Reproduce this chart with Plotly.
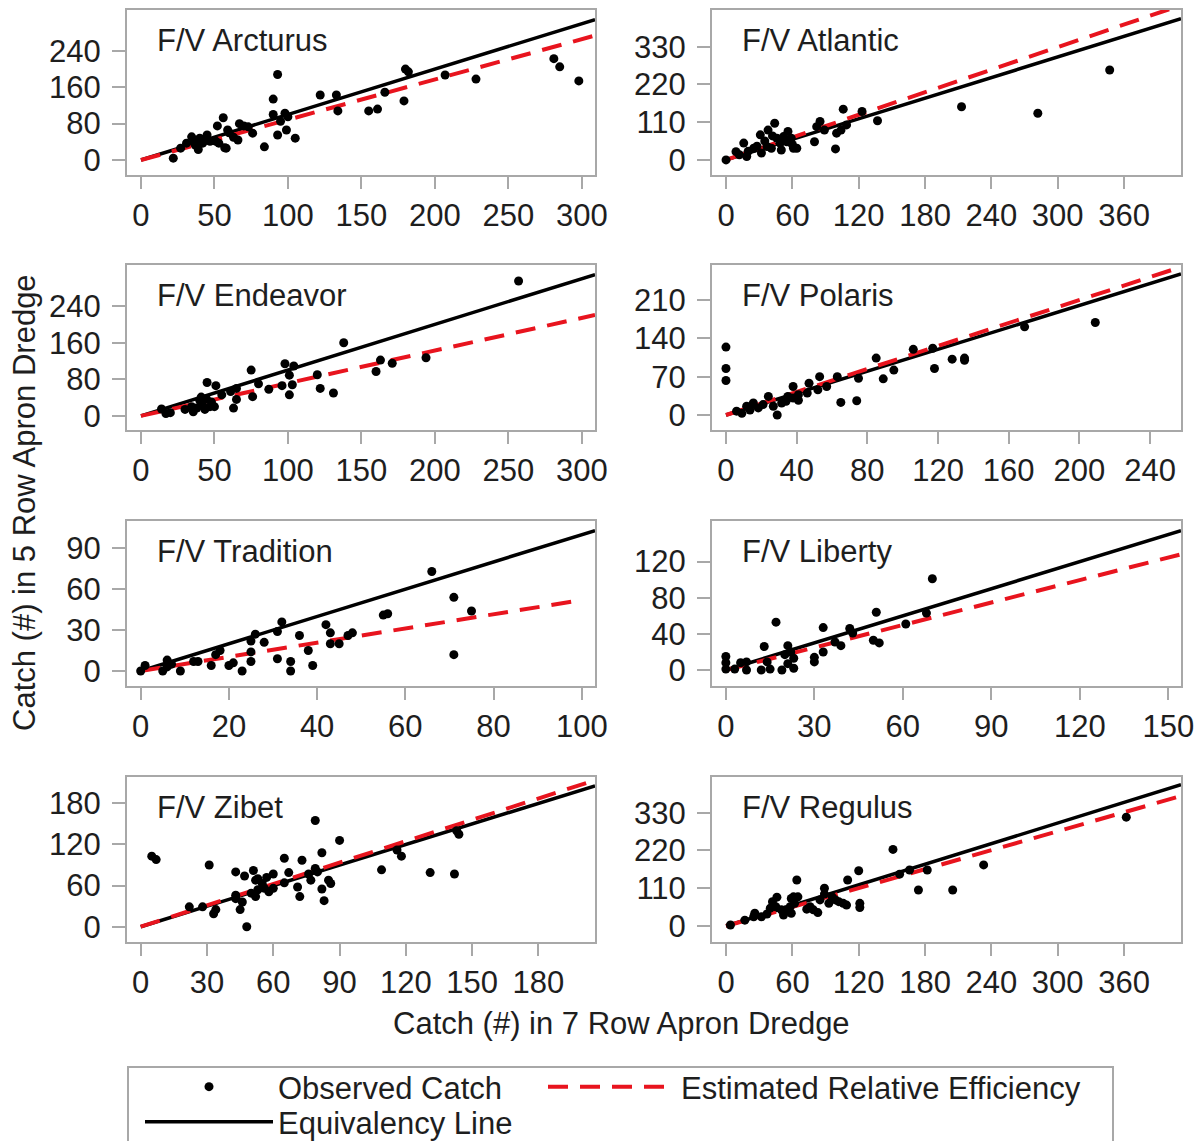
import plotly.graph_objects as go

# ---------------- data ----------------
vessel_names = ["F/V Arcturus", "F/V Atlantic", "F/V Endeavor", "F/V Polaris",
                "F/V Tradition", "F/V Liberty", "F/V Zibet", "F/V Regulus"]

arcturus_x = [22, 34.5, 37, 40, 42, 44, 39, 47, 31, 27, 51, 53, 58, 93, 90, 90, 93, 98, 99, 105, 84, 56, 52,
              67, 73, 76, 66, 57, 59, 122, 133, 134, 155, 161, 166, 179, 180, 182, 207, 228, 281, 285, 298,
              60, 63, 45, 36, 70, 95, 100]
arcturus_y = [4, 51, 33, 48, 37, 44, 23, 41, 37, 26, 41, 37, 26, 188, 134, 100, 55, 103, 66, 48, 29, 93, 75,
              80, 73, 59, 44, 27, 66, 143, 143, 108, 108, 112, 149, 130, 200, 194, 187, 178, 223, 205, 174,
              60, 50, 55, 40, 75, 85, 95]

atlantic_x = [347, 213, 282, 137, 123, 106, 109, 99, 80, 85, 82, 89, 100, 104, 44, 38, 31, 16, 0, 9, 18.7, 25,
              32, 37, 49, 50, 56, 59, 61, 55, 46, 41, 64, 52, 20, 28, 35, 42, 12, 60]
atlantic_y = [262, 155, 136, 114, 141, 148, 102, 32, 53, 112, 97, 87, 78, 87, 107, 87, 73, 49, 0, 24, 10, 34,
              20, 39, 49, 29, 83, 63, 34, 53, 63, 34, 34, 68, 25, 40, 55, 70, 15, 45]

endeavor_x = [257, 138, 194, 171, 163, 160, 131, 122, 120, 98, 104, 101, 103, 101, 96, 87, 76, 75, 80, 45, 51,
              63, 65, 61, 55, 65, 14, 20, 17, 30, 34.5, 38, 40, 42, 44.6, 47, 41, 48, 50, 43.5, 35.6]
endeavor_y = [295, 160, 127, 115, 122, 97, 50, 60, 90, 114, 109, 89, 68, 46, 66, 58, 42, 100, 70, 73, 66,
              17, 36, 53, 46, 60, 15, 7, 5, 14, 20, 17, 34, 23, 37, 20, 41, 30, 20, 14, 9]

polaris_x = [0, 0, 0, 209, 169, 135, 135, 128, 118, 117, 106, 95, 89, 85, 74, 65, 75, 63, 53, 52, 57, 47, 46,
             38, 29, 41, 6, 11.7, 15.5, 18.3, 24, 21, 26.8, 31.5, 34, 38, 13.6, 9, 35, 41]
polaris_y = [124, 85, 63, 169, 161, 100, 104, 102, 85, 122, 120, 82, 66, 104, 26, 23, 67, 70, 70, 46, 52, 58,
             40, 52, 0, 27, 7, 16, 22, 13, 34, 19, 16, 22, 25, 31, 9, 3, 34, 37]

tradition_x = [66, 71, 71, 75, 55, 56, 42, 43, 43, 45, 47, 48, 36, 38, 39, 34, 34, 31, 32, 31, 28, 26, 25, 25,
               25, 23, 21, 20, 18, 17, 16, 13, 12, 9, 6, 6, 5, 1, 0, 7]
tradition_y = [73, 54, 12, 44, 41, 42, 34, 28, 20, 20, 26, 28, 26, 15, 4, 7, 0, 9, 36, 29, 21, 27, 22, 14,
               7, 0, 6, 4, 15, 12, 4, 7, 7, 0, 8, 3, 0, 4, 0, 5]

liberty_x = [70, 17, 51, 33, 42, 43, 61, 68, 50, 52, 39, 37, 21, 13, 33, 30, 30, 22, 23, 21, 19, 15, 12, 14,
             7, 5, 3, 0, 0, 0, 7, 20, 23]
liberty_y = [101, 53, 64, 47, 46, 41, 51, 63, 33, 30, 27, 31, 27, 26, 20, 14, 9, 20, 2, 7, 0, 1, 0, 9,
             9, 8, 1, 15, 8, 1, 0, 17, 13]

zibet_x = [5, 7, 31, 79, 90, 82, 65, 73, 109, 118, 116, 131, 142, 144, 143, 22, 28, 33, 34, 48, 45, 46, 43,
           43, 47, 51, 52, 53, 55, 60, 57, 52, 50, 53, 56, 60, 58, 65, 67, 71, 72, 77, 76, 79, 80, 82, 83,
           85, 86, 43]
zibet_y = [103, 98, 90, 155, 126, 108, 100, 97, 83, 103, 112, 79, 77, 135, 140, 29, 29, 19, 25, 0, 25, 36, 46,
           80, 74, 82, 68, 70, 63, 77, 72, 44, 49, 54, 56, 56, 51, 64, 79, 58, 44, 68, 77, 85, 80, 55, 38,
           68, 63, 41]

regulus_x = [362, 151, 233, 205, 174, 182, 157, 166, 120, 110, 121, 121, 109, 102, 96, 89, 89, 85, 83, 73, 64,
             65, 62, 58, 59, 52, 46, 42, 40, 45, 50, 54, 37, 26, 25, 17, 4, 32, 76, 79, 93, 99, 106, 61, 59]
regulus_y = [317, 223, 178, 105, 105, 163, 151, 163, 161, 134, 66, 54, 61, 71, 85, 110, 93, 76, 39, 49, 134,
             85, 66, 56, 37, 32, 84, 71, 52, 56, 47, 47, 35, 37, 27, 17, 3, 27, 56, 47, 66, 76, 66, 85, 80]

obs_x = [arcturus_x, atlantic_x, endeavor_x, polaris_x, tradition_x, liberty_x, zibet_x, regulus_x]
obs_y = [arcturus_y, atlantic_y, endeavor_y, polaris_y, tradition_y, liberty_y, zibet_y, regulus_y]

# estimated relative efficiency (slope of the red dashed line) per vessel
rel_eff_slopes = [0.886, 1.096, 0.714, 1.05, 0.52, 0.83, 1.04, 0.92]
# end of the fitted relative-efficiency line (x units)
rel_eff_xend = [309, 411, 309, 257, 100, 154, 205, 411]

x_tickvals = [[0, 50, 100, 150, 200, 250, 300], [0, 60, 120, 180, 240, 300, 360],
              [0, 50, 100, 150, 200, 250, 300], [0, 40, 80, 120, 160, 200, 240],
              [0, 20, 40, 60, 80, 100], [0, 30, 60, 90, 120, 150],
              [0, 30, 60, 90, 120, 150, 180], [0, 60, 120, 180, 240, 300, 360]]
y_tickvals = [[0, 80, 160, 240], [0, 110, 220, 330], [0, 80, 160, 240], [0, 70, 140, 210],
              [0, 30, 60, 90], [0, 40, 80, 120], [0, 60, 120, 180], [0, 110, 220, 330]]

# ---------------- layout settings ----------------
x_ranges = [[-9.5, 309], [-12.7, 411.5], [-9.5, 309], [-7.9, 257.5],
            [-3.1, 103], [-4.7, 154.3], [-6.2, 205.6], [-12.7, 411.5]]
y_ranges = [[-33, 330], [-44, 437], [-31, 330], [-27.4, 274],
            [-11, 110], [-17.7, 165], [-22.3, 218.5], [-46.6, 434]]

W, H = 1201, 1141
col_px = [(127, 595), (712, 1181)]
row_px = [(10, 175), (265, 430), (521, 686), (777, 942)]
title_px = [(155, 40), (740, 40), (155, 295), (740, 295), (155, 551), (740, 551), (155, 807), (740, 807)]

FONT = "Liberation Sans, Arial, sans-serif"
TXT = "#1e1e1e"
FRAME = "#a8a8a8"
RED = "rgb(232,20,30)"

fig = go.Figure()
layout = {}
annotations = []

for i in range(8):
    r, c = divmod(i, 2)
    ax = "" if i == 0 else str(i + 1)
    xa, ya = "x" + ax, "y" + ax
    xmax = x_ranges[i][1]
    first = (i == 0)

    # Equivalency line y = x
    fig.add_trace(go.Scatter(
        x=[0, xmax], y=[0, xmax], mode="lines", xaxis=xa, yaxis=ya,
        line=dict(color="black", width=3.5), name="Equivalency Line",
        legend="legend3", showlegend=first, hoverinfo="skip"))
    # Estimated relative efficiency line
    xe = rel_eff_xend[i]
    fig.add_trace(go.Scatter(
        x=[0, xe], y=[0, rel_eff_slopes[i] * xe], mode="lines", xaxis=xa, yaxis=ya,
        line=dict(color=RED, width=4, dash="20px,12px"), name="Estimated Relative Efficiency",
        legend="legend2", showlegend=first, hoverinfo="skip"))
    # Observed catch
    fig.add_trace(go.Scatter(
        x=obs_x[i], y=obs_y[i], mode="markers", xaxis=xa, yaxis=ya,
        marker=dict(color="black", size=9), name="Observed Catch",
        legend="legend", showlegend=first))

    x0, x1 = col_px[c]
    y0, y1 = row_px[r]
    layout["xaxis" + ax] = dict(
        domain=[x0 / W, x1 / W], anchor=ya, range=x_ranges[i],
        tickvals=x_tickvals[i], ticks="outside", ticklen=12, tickwidth=2, tickcolor=FRAME,
        showline=True, linecolor=FRAME, linewidth=2, mirror=True,
        showgrid=False, zeroline=False, automargin=False,
        tickfont=dict(family=FONT, size=31, color=TXT), ticklabelstandoff=0)
    layout["yaxis" + ax] = dict(
        domain=[1 - y1 / H, 1 - y0 / H], anchor=xa, range=y_ranges[i],
        tickvals=y_tickvals[i], ticks="outside", ticklen=13, tickwidth=2, tickcolor=FRAME,
        showline=True, linecolor=FRAME, linewidth=2, mirror=True,
        showgrid=False, zeroline=False, automargin=False,
        tickfont=dict(family=FONT, size=31, color=TXT), ticklabelstandoff=5)

    tx, ty = title_px[i]
    annotations.append(dict(text=vessel_names[i], x=tx / W, y=1 - ty / H, xref="paper", yref="paper",
                            xanchor="left", yanchor="middle", showarrow=False,
                            font=dict(family=FONT, size=31, color=TXT)))

annotations.append(dict(text="Catch (#) in 7 Row Apron Dredge", x=621 / W, y=1 - 1023 / H,
                        xref="paper", yref="paper", xanchor="center", yanchor="middle",
                        showarrow=False, font=dict(family=FONT, size=31, color=TXT)))
annotations.append(dict(text="Catch (#) in 5 Row Apron Dredge", x=25 / W, y=1 - 503 / H,
                        xref="paper", yref="paper", xanchor="center", yanchor="middle",
                        textangle=-90, showarrow=False, font=dict(family=FONT, size=31, color=TXT)))

legend_common = dict(xref="container", yref="container", xanchor="left", yanchor="middle",
                     itemwidth=128, bgcolor="rgba(0,0,0,0)", borderwidth=0,
                     font=dict(family=FONT, size=31, color=TXT))

fig.update_layout(
    width=W, height=H, margin=dict(l=0, r=0, t=0, b=0, autoexpand=False),
    paper_bgcolor="white", plot_bgcolor="white",
    annotations=annotations,
    shapes=[dict(type="rect", xref="paper", yref="paper", x0=128 / W, x1=1113 / W,
                 y0=1 - 1067 / H, y1=1 - 1170 / H, line=dict(color=FRAME, width=2),
                 fillcolor="rgba(0,0,0,0)", layer="below")],
    legend=dict(x=140 / W, y=1 - 1087 / H, **legend_common),
    legend2=dict(x=543 / W, y=1 - 1087 / H, **legend_common),
    legend3=dict(x=140 / W, y=1 - 1122 / H, **legend_common),
    **layout)

fig.write_html("out.html")
